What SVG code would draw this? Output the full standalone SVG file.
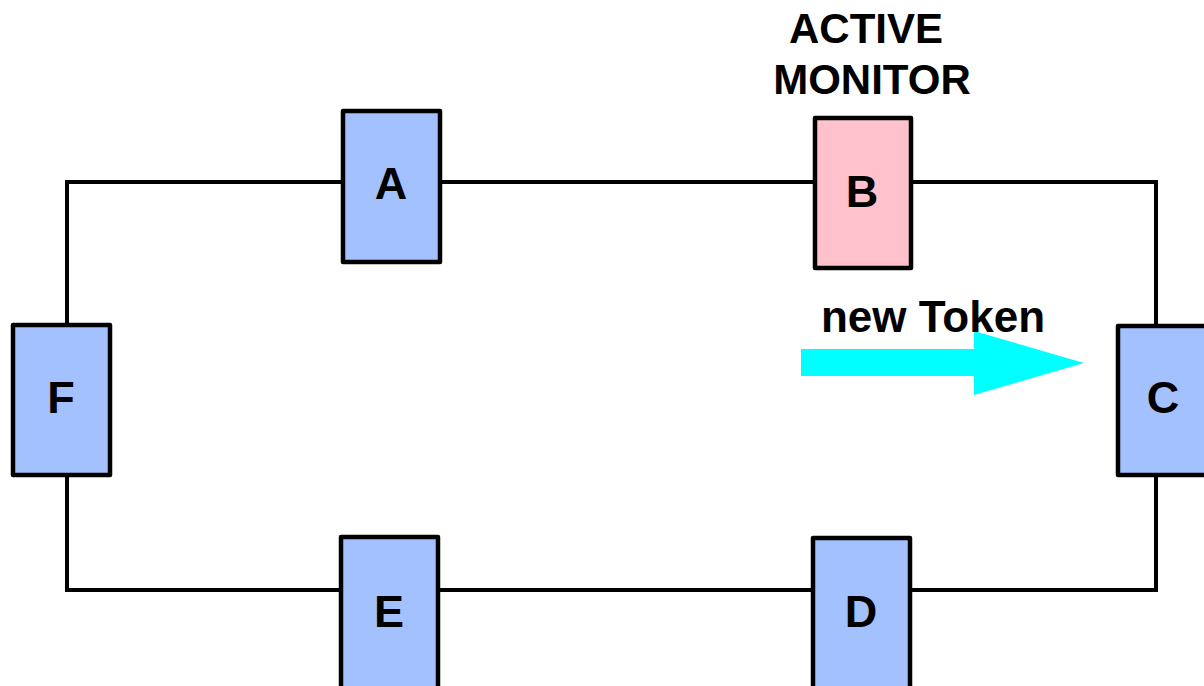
<svg xmlns="http://www.w3.org/2000/svg" width="1204" height="686" viewBox="0 0 1204 686">
<style>
.ring{fill:none;stroke:#000;stroke-width:4}
.node{fill:#a3c1ff;stroke:#000;stroke-width:4.5;stroke-linejoin:round}
.am{fill:#ffc2cd}
.lbl{font-family:"Liberation Sans",Arial,sans-serif;font-weight:bold;font-size:45px;text-anchor:middle;fill:#000}
.cap{font-family:"Liberation Sans",Arial,sans-serif;font-weight:bold;font-size:42px;text-anchor:middle;fill:#000}
</style>
<rect width="1204" height="686" fill="#fff"/>
<g id="connectors">
<path class="ring" d="M67,324 V182 H1156 V324 M1156,476 V590 H67 V476"/>
</g>
<g id="node-A"><rect class="node" x="343" y="111" width="97" height="151"/><text class="lbl" x="391" y="199">A</text></g>
<g id="node-B"><rect class="node am" x="815" y="118" width="96" height="150"/><text class="lbl" x="862" y="207">B</text></g>
<g id="node-C"><rect class="node" x="1118" y="326" width="92" height="149"/><text class="lbl" x="1163" y="413">C</text></g>
<g id="node-D"><rect class="node" x="813" y="538" width="97" height="160"/><text class="lbl" x="861" y="627">D</text></g>
<g id="node-E"><rect class="node" x="341" y="537" width="97" height="160"/><text class="lbl" x="389" y="627">E</text></g>
<g id="node-F"><rect class="node" x="13" y="325" width="97" height="150"/><text class="lbl" x="61" y="413">F</text></g>
<g id="arrow"><polygon fill="#00ffff" points="801,349 974,349 974,331 1084,363 974,395 974,376 801,376"/></g>
<g id="labels">
<text class="cap" x="866" y="43">ACTIVE</text>
<text class="cap" x="872" y="94">MONITOR</text>
<text class="cap" x="933" y="332" style="font-size:44px">new Token</text>
</g>
</svg>
